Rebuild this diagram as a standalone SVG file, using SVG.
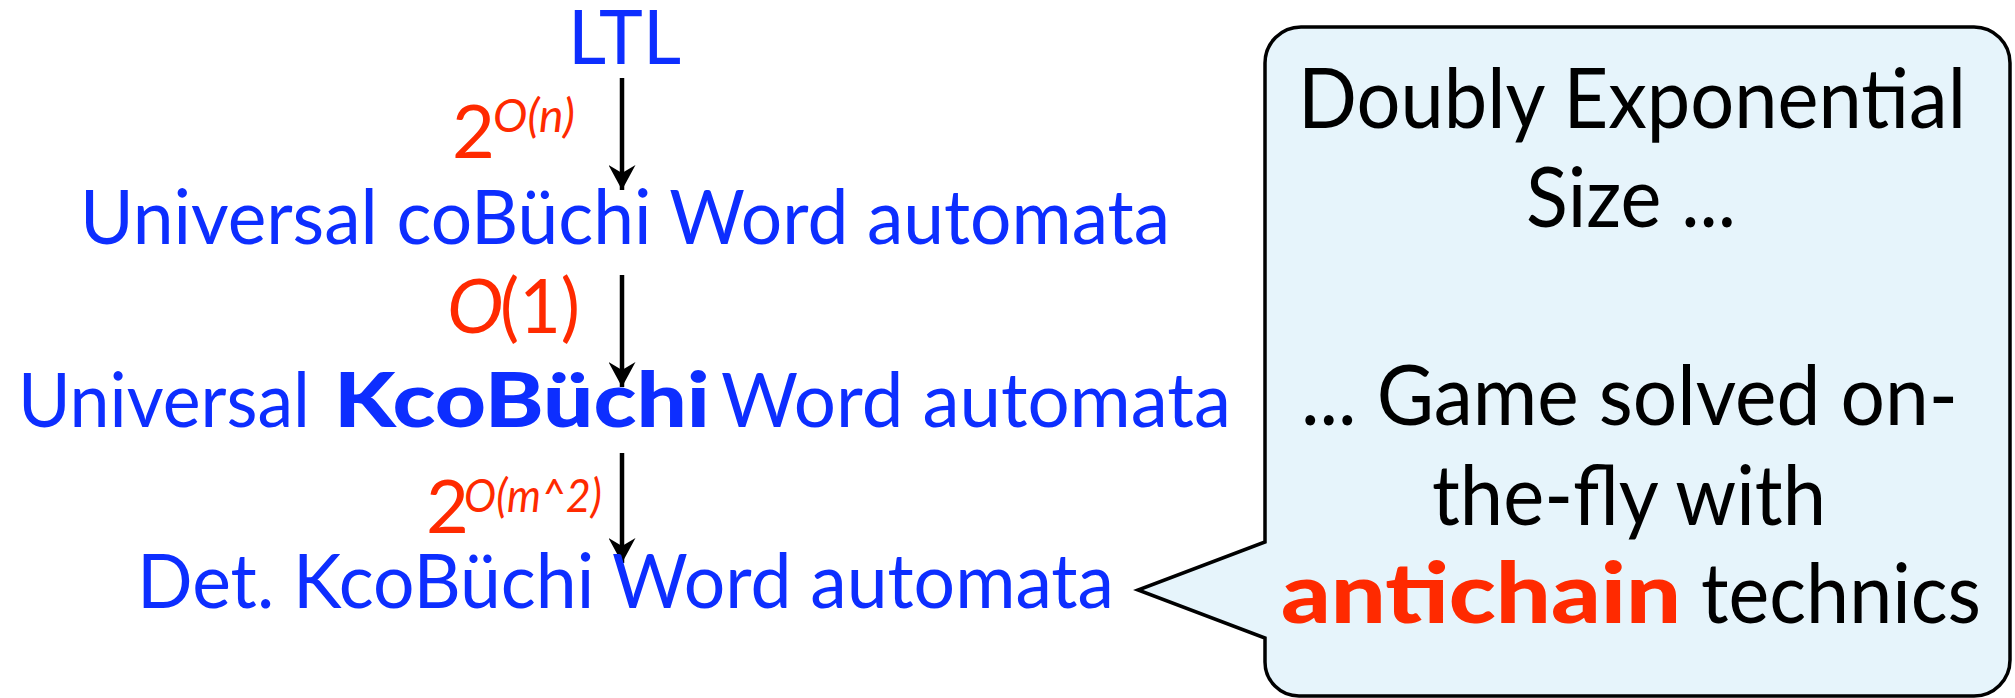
<svg xmlns="http://www.w3.org/2000/svg" width="2015" height="698" viewBox="0 0 2015 698">
<style>
  .b { font-family: Lato, "Open Sans", sans-serif; font-size: 76px; fill: #0d2eff; }
  .bb { font-weight: 900; }
  .r { font-family: Lato, "Open Sans", sans-serif; fill: #ff2a00; }
  .it { font-style: italic; }
  .k { font-family: Lato, "Open Sans", sans-serif; font-size: 83px; fill: #000; }
  .conn { stroke: #000; stroke-width: 4.5; fill: none; }
</style>
<defs>
  <marker id="ah" viewBox="0 0 25 27" refX="25" refY="13.5" markerWidth="25" markerHeight="27" markerUnits="userSpaceOnUse" orient="auto">
    <path d="M0,0 L25,13.5 L0,27 L8,13.5 Z" fill="#000"/>
  </marker>
</defs>
<g id="connectors">
  <line class="conn" x1="622" y1="78" x2="622" y2="190" marker-end="url(#ah)"/>
  <line class="conn" x1="622" y1="275" x2="622" y2="387" marker-end="url(#ah)"/>
  <line class="conn" x1="622" y1="453" x2="622" y2="563" marker-end="url(#ah)"/>
</g>
<g id="node-ltl">
  <text class="b" x="568" y="64" textLength="113" lengthAdjust="spacingAndGlyphs">LTL</text>
</g>
<g id="node-ucw">
  <text class="b" x="80" y="244" textLength="1090" lengthAdjust="spacingAndGlyphs">Universal coBüchi Word automata</text>
</g>
<g id="node-ukcw">
  <text class="b" x="18" y="427" textLength="292" lengthAdjust="spacingAndGlyphs">Universal</text>
  <text class="b bb" x="334" y="427" textLength="376" lengthAdjust="spacingAndGlyphs">KcoBüchi</text>
  <text class="b" x="721" y="427" textLength="510" lengthAdjust="spacingAndGlyphs">Word automata</text>
</g>
<g id="node-dkcw">
  <text class="b" x="137" y="608" textLength="977" lengthAdjust="spacingAndGlyphs">Det. KcoBüchi Word automata</text>
</g>
<g id="label-1">
  <text class="r" x="452" y="158" font-size="74">2</text>
  <text class="r it" x="493" y="132" font-size="46" textLength="82" lengthAdjust="spacingAndGlyphs">O(n)</text>
</g>
<g id="label-2">
  <text class="r it" x="447" y="333" font-size="76">O</text>
  <text class="r" x="500" y="333" font-size="76" textLength="80" lengthAdjust="spacingAndGlyphs">(1)</text>
</g>
<g id="label-3">
  <text class="r" x="426" y="533" font-size="74">2</text>
  <text class="r it" x="464" y="512" font-size="46" textLength="138" lengthAdjust="spacingAndGlyphs">O(m^2)</text>
</g>
<g id="callout">
  <path d="M1301,27 H1974 A36,36 0 0 1 2010,63 V660 A36,36 0 0 1 1974,696 H1299 A34,34 0 0 1 1265,662 V638 L1138,590 L1265,542 V63 A36,36 0 0 1 1301,27 Z" fill="#e6f4fb" stroke="#000" stroke-width="3.5" stroke-linejoin="miter"/>
  <text class="k" x="1298" y="128" textLength="668" lengthAdjust="spacingAndGlyphs">Doubly Exponential</text>
  <text class="k" x="1526" y="227" textLength="210" lengthAdjust="spacingAndGlyphs">Size ...</text>
  <text class="k" x="1301" y="425" textLength="657" lengthAdjust="spacingAndGlyphs">... Game solved on-</text>
  <text class="k" x="1432" y="525" textLength="394" lengthAdjust="spacingAndGlyphs">the-fly with</text>
  <text class="k" x="1281" y="623" font-weight="900" style="fill:#ff2a00" textLength="400" lengthAdjust="spacingAndGlyphs">antichain</text>
  <text class="k" x="1701" y="623" textLength="280" lengthAdjust="spacingAndGlyphs">technics</text>
</g>
</svg>
